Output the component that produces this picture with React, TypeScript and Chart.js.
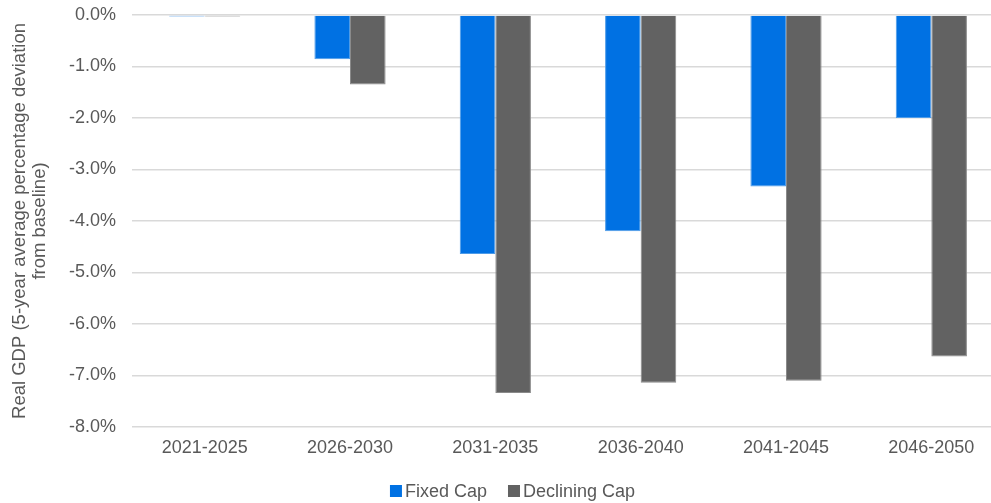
import React, { useEffect, useRef } from "react";
import { Chart, registerables } from "chart.js";

Chart.register(...registerables);

// Five-year periods on the category axis
const periods = ["2021-2025", "2026-2030", "2031-2035", "2036-2040", "2041-2045", "2046-2050"];

// Real GDP, 5-year average % deviation from baseline
const fixedCap = [-0.03, -0.86, -4.64, -4.2, -3.33, -2.0];
const decliningCap = [-0.03, -1.35, -7.34, -7.14, -7.1, -6.63];

const seriesNames = ["Fixed Cap", "Declining Cap"];
const yTitle = ["Real GDP (5-year average percentage deviation", "from baseline)"];

const FONT = '"Liberation Sans", Arial, sans-serif';
const TEXT = "#595959";
const BLUE = "#0071E3";
const GREY = "#626262";

const CANVAS_W = 1025;
const CANVAS_H = 503;

// Compact legend: square swatch followed closely by its label
const bottomLegend = {
  id: "bottomLegend",
  afterDraw(chart: any) {
    const ctx = chart.ctx;
    ctx.save();
    ctx.font = `18px ${FONT}`;
    ctx.textBaseline = "middle";
    ctx.textAlign = "left";
    const box = 12;
    const gap = 3;
    const itemGap = 21;
    const items = chart.data.datasets.map((ds: any) => ({
      label: ds.label,
      color: ds.backgroundColor,
      w: box + gap + ctx.measureText(ds.label).width,
    }));
    const total = items.reduce((s: number, it: any) => s + it.w, 0) + itemGap * (items.length - 1);
    let x = chart.width / 2 - total / 2;
    const cy = 491;
    for (const it of items) {
      ctx.fillStyle = it.color;
      ctx.fillRect(x, cy - box / 2, box, box);
      ctx.fillStyle = TEXT;
      ctx.fillText(it.label, x + box + gap, cy + 1);
      x += it.w + itemGap;
    }
    ctx.restore();
  },
};

export default function App() {
  const ref = useRef<HTMLCanvasElement | null>(null);

  useEffect(() => {
    if (!ref.current) return;
    const chart = new Chart(ref.current, {
      type: "bar",
      data: {
        labels: periods,
        datasets: [
          {
            label: seriesNames[0],
            data: fixedCap,
            backgroundColor: BLUE,
            borderColor: "#4d9be8",
            borderWidth: 1,
          },
          {
            label: seriesNames[1],
            data: decliningCap,
            backgroundColor: GREY,
            borderColor: "#8a8a8a",
            borderWidth: 1,
          },
        ],
      },
      options: {
        animation: false,
        responsive: false,
        devicePixelRatio: 1,
        layout: { padding: { left: 0, right: 21, top: 15, bottom: 36 } },
        datasets: { bar: { categoryPercentage: 0.49, barPercentage: 1.0 } },
        plugins: {
          legend: { display: false },
          tooltip: { enabled: false },
        },
        scales: {
          x: {
            grid: { display: false, drawTicks: false },
            border: { display: false },
            ticks: { color: TEXT, font: { family: FONT, size: 18 }, padding: 10, maxRotation: 0 },
            afterFit: (s: any) => {
              s.height = 40;
            },
          },
          y: {
            min: -8,
            max: 0,
            ticks: {
              stepSize: 1,
              color: TEXT,
              font: { family: FONT, size: 18 },
              padding: 0,
              callback: (v: any) => Number(v).toFixed(1) + "%",
            },
            grid: {
              color: "#d9d9d9",
              lineWidth: 1.5,
              drawTicks: true,
              tickLength: 16,
              tickColor: "rgba(0,0,0,0)",
            },
            border: { display: false },
            title: {
              display: true,
              text: yTitle,
              color: TEXT,
              font: { family: FONT, size: 18.5, lineHeight: 1.08 },
              padding: { top: 10, bottom: 0 },
            },
            afterFit: (s: any) => {
              s.width = 132;
            },
          },
        },
      },
      plugins: [bottomLegend],
    });
    return () => chart.destroy();
  }, []);

  return (
    <div
      style={{
        position: "fixed",
        left: 0,
        top: 0,
        width: 991,
        height: 503,
        overflow: "hidden",
        background: "#fff",
      }}
    >
      <canvas
        ref={ref}
        width={CANVAS_W}
        height={CANVAS_H}
        style={{ display: "block", width: CANVAS_W, height: CANVAS_H }}
      />
    </div>
  );
}
